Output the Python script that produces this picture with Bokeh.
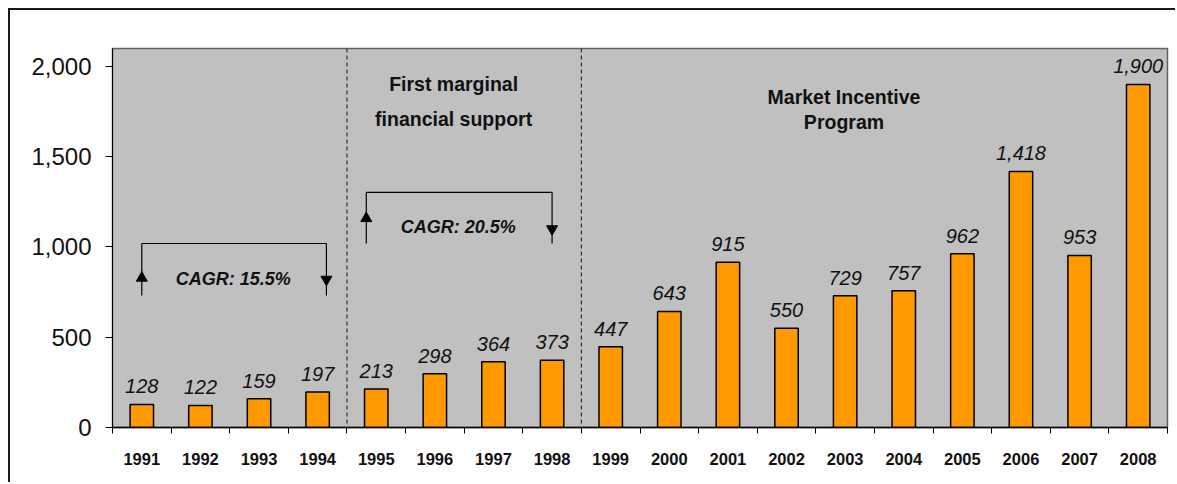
from bokeh.plotting import figure
from bokeh.models import Range1d, FixedTicker, Span, NumeralTickFormatter
from bokeh.core.properties import value
from bokeh.embed import file_html
from bokeh.resources import INLINE

years = ["1991", "1992", "1993", "1994", "1995", "1996", "1997", "1998", "1999",
         "2000", "2001", "2002", "2003", "2004", "2005", "2006", "2007", "2008"]
sales = [128, 122, 159, 197, 213, 298, 364, 373, 447,
         643, 915, 550, 729, 757, 962, 1418, 953, 1900]
value_labels = ["128", "122", "159", "197", "213", "298", "364", "373", "447",
                "643", "915", "550", "729", "757", "962", "1,418", "953", "1,900"]
y_ticks = [0, 500, 1000, 1500, 2000]
phase_breaks = [4, 8]
phase_titles = [["First marginal", "financial support"], ["Market Incentive", "Program"]]
phase_title_x = [5.82, 12.48]
phase_title_y = [[1900, 1710], [1830, 1690]]
cagr_labels = ["CAGR: 15.5%", "CAGR: 20.5%"]
cagr_x0 = [0.5, 4.33]
cagr_x1 = [3.65, 7.5]
cagr_top = [1019, 1302]
cagr_bottom = [731, 1019]
cagr_up_y = [828, 1158]
cagr_down_y = [820, 1100]
cagr_text_x = [2.06, 5.9]
cagr_text_y = [820, 1110]

FONT = "Liberation Sans"
n = len(years)
centers = [i + 0.5 for i in range(n)]

p = figure(width=1167, height=474, output_backend="svg", toolbar_location=None,
           x_range=Range1d(0, n), y_range=Range1d(0, 2099),
           min_border_left=102, min_border_right=10, min_border_top=38, min_border_bottom=57)
p.styles = {"margin-left": "8px", "margin-top": "8px",
            "border-top": "2px solid #1a1a1a", "border-left": "2px solid #1a1a1a"}
p.background_fill_color = "#C0C0C0"
p.border_fill_color = "white"
p.outline_line_color = "#606060"
p.outline_line_width = 1.5
p.xgrid.visible = False
p.ygrid.visible = False

# bars
p.vbar(x=centers, top=sales, width=0.4, bottom=0, fill_color="#FF9900",
       line_color="black", line_width=1.5)

# value labels
p.text(x=centers, y=sales, text=value_labels, text_align="center",
       text_baseline="alphabetic", y_offset=-18, text_font=value(FONT),
       text_font_size="20px", text_font_style="italic", text_color="#111111")

# phase separators
for b in phase_breaks:
    p.add_layout(Span(location=b, dimension="height", line_color="#333333",
                      line_dash="4 3", line_width=1.2))

# phase titles
for tx, lines, ys in zip(phase_title_x, phase_titles, phase_title_y):
    p.text(x=[tx, tx], y=ys, text=lines, text_align="center", text_baseline="alphabetic",
           text_font=value(FONT), text_font_size="19.5px", text_font_style="bold",
           text_color="#111111")

# CAGR brackets
for i in range(2):
    p.line([cagr_x0[i], cagr_x0[i], cagr_x1[i], cagr_x1[i]],
           [cagr_bottom[i], cagr_top[i], cagr_top[i], cagr_bottom[i]],
           line_color="black", line_width=1.2)
    p.scatter([cagr_x0[i]], [cagr_up_y[i]], marker="triangle", size=11,
              fill_color="black", line_color="black")
    p.scatter([cagr_x1[i]], [cagr_down_y[i]], marker="inverted_triangle", size=11,
              fill_color="black", line_color="black")
    p.text(x=[cagr_text_x[i]], y=[cagr_text_y[i]], text=[cagr_labels[i]],
           text_align="center", text_baseline="alphabetic", text_font=value(FONT),
           text_font_size="18px", text_font_style="bold italic", text_color="#111111")

# x axis: labels at centers, tick marks at boundaries
xa = p.xaxis[0]
xa.ticker = FixedTicker(ticks=centers, minor_ticks=list(range(n + 1)))
xa.major_label_overrides = {c: y for c, y in zip(centers, years)}
xa.major_tick_line_color = None
xa.major_tick_out = 0
xa.major_tick_in = 0
xa.minor_tick_out = 6
xa.minor_tick_in = 0
xa.minor_tick_line_color = "black"
xa.axis_line_color = "black"
xa.axis_line_width = 1.5
xa.major_label_standoff = 19
xa.major_label_text_font = FONT
xa.major_label_text_font_size = "16.5px"
xa.major_label_text_font_style = "bold"
xa.major_label_text_color = "#111111"

ya = p.yaxis[0]
ya.ticker = FixedTicker(ticks=y_ticks, minor_ticks=[])
ya.formatter = NumeralTickFormatter(format="0,0")
ya.major_tick_out = 7
ya.major_tick_in = 0
ya.major_label_standoff = 14
ya.major_label_text_font = FONT
ya.major_label_text_font_size = "24px"
ya.major_label_text_color = "#111111"
ya.axis_line_color = "black"
ya.minor_tick_line_color = None

open("out.html", "w").write(file_html(p, INLINE))
